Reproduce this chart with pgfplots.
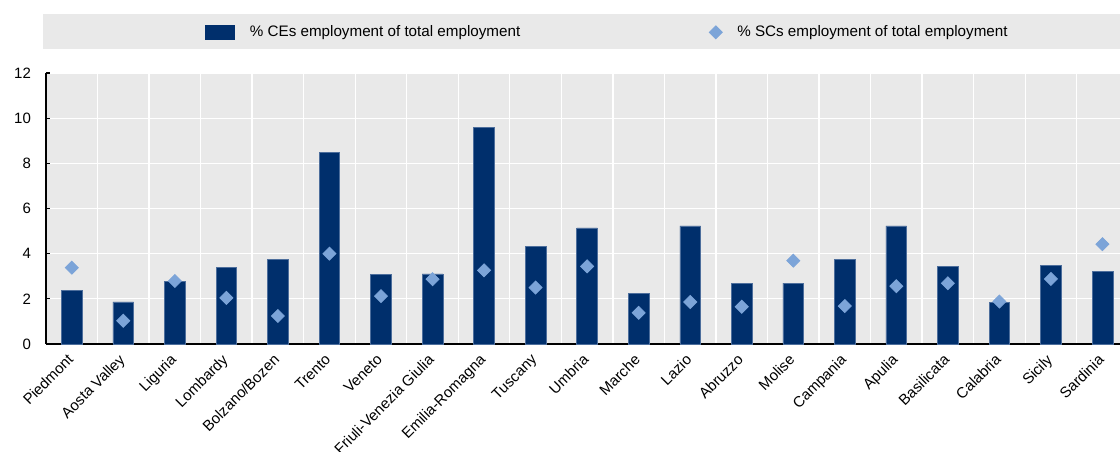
\documentclass[border=0pt]{standalone}
\usepackage{fontspec}
\setmainfont{Liberation Sans}
\usepackage{pgfplots}
\pgfplotsset{compat=1.18}
\definecolor{navy}{HTML}{002F6C}
\definecolor{navyedge}{HTML}{4D6E9C}
\definecolor{lblue}{HTML}{7CA4D8}
\definecolor{bggrey}{HTML}{E9E9E9}
\begin{document}
\begin{tikzpicture}
\begin{axis}[
  width=537pt, height=135.5pt, scale only axis,
  xmin=-0.5, xmax=20.34, ymin=0, ymax=12,
  axis x line*=bottom, axis y line*=left,
  axis line style={black, line width=0.7pt},
  axis background/.style={fill=bggrey},
  font=\fontsize{7.5}{9}\selectfont,
  /pgf/number format/assume math mode=true,
  ytick={0,2,...,12},
  tick align=inside,
  major tick length=2pt,
  ytick style={black, line width=0.6pt},
  y tick label style={xshift=-4pt},
  xtick={0,...,20},
  xticklabels={Piedmont,Aosta Valley,Liguria,Lombardy,Bolzano/Bozen,Trento,Veneto,Friuli-Venezia Giulia,Emilia-Romagna,Tuscany,Umbria,Marche,Lazio,Abruzzo,Molise,Campania,Apulia,Basilicata,Calabria,Sicily,Sardinia},
  xtick style={draw=none},
  x tick label style={rotate=45, anchor=north east, inner sep=1pt, xshift=-4pt, yshift=-0.2pt, font=\fontsize{7.5}{9}\selectfont},
  minor xtick={-0.5,0.5,...,19.5},
  minor x tick style={black, line width=0.6pt},
  minor tick length=2.5pt,
  ymajorgrids=true, xminorgrids=true,
  major grid style={white, line width=0.65pt},
  minor grid style={white, line width=0.65pt},
  clip=false,
  legend columns=2,
  legend style={at={(axis description cs:0.148,1.150)}, anchor=west, draw=none, fill=none, inner sep=0pt,
    font=\fontsize{7.6}{9}\selectfont,
    /tikz/every odd column/.append style={column sep=5.5pt},
    /tikz/every even column/.append style={column sep=92.5pt}},
]
\fill[bggrey] (axis description cs:-0.0028,1.0886) rectangle (axis description cs:1.0,1.219);
\addplot[ybar, bar width=10.35pt, bar shift=0pt, fill=navy, draw=navyedge, line width=0.3pt,
  legend image code/.code={\fill[navy] (0pt,-3.5pt) rectangle (14.5pt,3.5pt);}]
  coordinates {(0,2.37) (1,1.86) (2,2.78) (3,3.38) (4,3.73) (5,8.49) (6,3.09) (7,3.10) (8,9.59) (9,4.31) (10,5.14) (11,2.23) (12,5.23) (13,2.69) (14,2.69) (15,3.76) (16,5.23) (17,3.42) (18,1.85) (19,3.48) (20,3.23)};
\addlegendentry{\% CEs employment of total employment}
\addplot[only marks, mark=square*, mark size=2.3pt, mark options={rotate=45, fill=lblue, draw=lblue}]
  coordinates {(0,3.38) (1,1.03) (2,2.79) (3,2.04) (4,1.24) (5,4.00) (6,2.12) (7,2.87) (8,3.26) (9,2.50) (10,3.44) (11,1.38) (12,1.86) (13,1.65) (14,3.69) (15,1.68) (16,2.56) (17,2.69) (18,1.88) (19,2.88) (20,4.42)};
\addlegendentry{\% SCs employment of total employment}
\coordinate (bbl) at (axis description cs:-0.04283,-0.3985);
\coordinate (btr) at (axis description cs:1.0,1.2694);
\end{axis}
\pgfresetboundingbox
\path (bbl) rectangle (btr);
\end{tikzpicture}
\end{document}
